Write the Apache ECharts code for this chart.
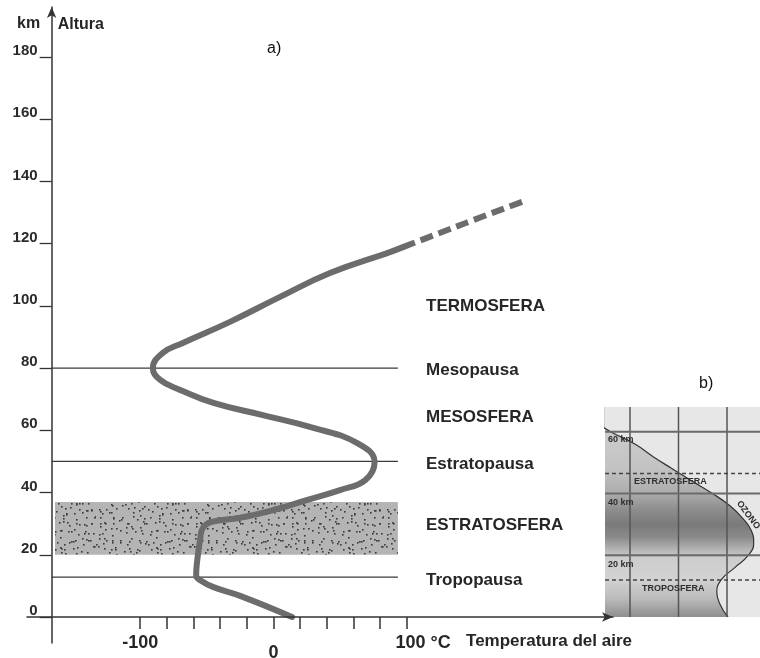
<!DOCTYPE html>
<html><head><meta charset="utf-8">
<script src="https://cdn.jsdelivr.net/npm/echarts@6/dist/echarts.min.js"></script>
<style>html,body{margin:0;padding:0;background:#fff}#c{width:760px;height:658px}</style>
</head><body><div id="c"></div>
<script>
// ---------- data (a) ----------
const altitudeTicks = [0, 20, 40, 60, 80, 100, 120, 140, 160, 180];
const temperatureTicks = [-100, -80, -60, -40, -20, 0, 20, 40, 60, 80, 100];
const temperatureLabels = ['-100', '0', '100 °C'];
const temperatureLabelValues = [-100, 0, 100];
// measured temperature profile (°C) and altitude (km)
const profileTemp = [14, -25, -45, -54, -58, -57.5, -55, -53, -47, -25, 0, 25, 50, 69, 76, 63, 30, -8, -45, -70, -85, -90.5, -83, -68, -33, 5, 42.5, 87.5, 97.3];
const profileAlt  = [0, 6.8, 9.6, 11.6, 13.3, 17, 25, 28.6, 30.5, 31.9, 34.4, 37.6, 40.8, 44, 49.8, 55.9, 60.8, 64.9, 68.8, 73, 76.2, 80, 84.9, 88.1, 94.8, 102.9, 110.6, 117.3, 118.9];
// extrapolated (dashed) part
const extrapTemp = [97.3, 144, 190];
const extrapAlt  = [118.9, 126.6, 134];
const boundaryNames = ['Tropopausa', 'Estratopausa', 'Mesopausa'];
const boundaryAlt = [12.8, 50, 80];
const labelNames = ['Tropopausa', 'ESTRATOSFERA', 'Estratopausa', 'MESOSFERA', 'Mesopausa', 'TERMOSFERA'];
const labelAlt = [11.9, 29.6, 49.2, 64.3, 79.4, 99.8];
const ozoneLayerAlt = [20, 37];
const bandTemp = [-164, 93.5];
const lineTemp = [-166.5, 93.5];
// ---------- data (b) inset ----------
const insetAlt = ['0','4','8','12','16','20','24','28','32','36','40','44','48','52','56','60','64','68'];
const ozoneConc = [3.02, 2.86, 2.79, 2.88, 3.16, 3.44, 3.55, 3.50, 3.32, 3.06, 2.70, 2.28, 1.87, 1.47, 1.10, 0.60, 0.20, -0.20];
const insetGridConc = [1, 2, 3];
const insetGridAlt = [20, 40, 60];
const insetDashedAlt = [12, 46.5];

// ---------- styling helpers ----------
const FONT = 'Liberation Sans, Arial, sans-serif';
const xMin = -185, xMax = 255;
const gridLeft = 27, gridRight = 147;
const pxPerDeg = (760 - gridLeft - gridRight) / (xMax - xMin);

function stipple() {
  const n = 96, cell = 8;
  const c = document.createElement('canvas');
  c.width = n; c.height = n;
  const g = c.getContext('2d');
  g.fillStyle = '#b4b4b4'; g.fillRect(0, 0, n, n);
  g.fillStyle = '#3a3a3a';
  let h = 97;
  const next = () => { h = (h * 1103515245 + 12345) % 2147483648; return h / 2147483648; };
  for (let cy = 0; cy < n; cy += cell) {
    for (let cx = 0; cx < n; cx += cell) {
      for (let k = 0; k < 2; k++) {
        g.fillRect(cx + Math.floor(next() * cell), cy + Math.floor(next() * cell), 1.6, 1.6);
      }
    }
  }
  return c;
}
const pat = stipple();

const chart = echarts.init(document.getElementById('c'), null, {renderer: 'canvas'});

const insetText = (t, left, top) => ({type: 'text', left, top, z: 30,
  style: {text: t, font: 'bold 9px ' + FONT, fill: '#2e2e2e'}});

const option = {
  animation: false,
  backgroundColor: '#fff',
  grid: [
    {left: gridLeft, right: gridRight, top: 7, bottom: 15, containLabel: false, outerBoundsMode: 'none'},
    {left: 605, right: 0, top: 407, bottom: 41, show: true, backgroundColor: '#e7e7e7', borderWidth: 0, z: 0, containLabel: false, outerBoundsMode: 'none'}
  ],
  xAxis: [
    {
      type: 'value', gridIndex: 0, min: xMin, max: xMax, z: 10,
      name: 'Temperatura del aire', nameLocation: 'end', nameGap: 19,
      nameTextStyle: {align: 'right', verticalAlign: 'top', padding: [16, 0, 0, 0], fontFamily: FONT, fontSize: 17, fontWeight: 'bold', color: '#262626'},
      axisLine: {show: true, onZero: true, symbol: ['none', 'arrow'], symbolSize: [7, 11], lineStyle: {color: '#333', width: 1.5}},
      axisTick: {show: true, customValues: temperatureTicks, length: 12, lineStyle: {color: '#333', width: 1.5}},
      axisLabel: {show: false},
      splitLine: {show: false}
    },
    {type: 'value', gridIndex: 1, min: 0.485, max: 3.68, show: false, splitLine: {show: false}}
  ],
  yAxis: [
    {
      type: 'value', gridIndex: 0, min: -8.36, max: 196.1, z: 10,
      offset: -(lineTemp[0] - xMin) * pxPerDeg,
      name: 'Altura', nameLocation: 'end', nameGap: -10,
      nameTextStyle: {align: 'left', verticalAlign: 'top', padding: [0, 0, 0, 6], fontFamily: FONT, fontSize: 16, fontWeight: 'bold', color: '#262626'},
      axisLine: {show: true, onZero: false, symbol: ['none', 'arrow'], symbolSize: [7, 11], lineStyle: {color: '#333', width: 1.5}},
      axisTick: {show: true, customValues: altitudeTicks, length: 12, lineStyle: {color: '#333', width: 1.3}},
      axisLabel: {show: true, customValues: altitudeTicks, margin: 14, fontFamily: FONT, fontSize: 15, fontWeight: 'bold', color: '#2a2a2a', verticalAlign: 'bottom', lineHeight: 12},
      splitLine: {show: false}
    },
    {type: 'category', gridIndex: 1, data: insetAlt, boundaryGap: false, show: false},
    {type: 'value', gridIndex: 1, min: 0, max: 68, show: false, splitLine: {show: false}}
  ],
  graphic: [
    {type: 'text', left: 17, top: 16, z: 30, style: {text: 'km', font: 'bold 16px ' + FONT, fill: '#262626'}},
    {type: 'text', left: 267, top: 41, z: 30, style: {text: 'a)', font: '16px ' + FONT, fill: '#111'}},
    {type: 'text', left: 699, top: 376, z: 30, style: {text: 'b)', font: '16px ' + FONT, fill: '#111'}},
    insetText('60 km', 608, 435),
    insetText('ESTRATOSFERA', 634, 477),
    insetText('40 km', 608, 498),
    insetText('20 km', 608, 560),
    insetText('TROPOSFERA', 642, 584),
    {type: 'text', x: 742, y: 499, rotation: -0.93, z: 30, style: {text: 'OZONO', font: 'bold 9px ' + FONT, fill: '#2e2e2e'}}
  ],
  series: [
    // stratospheric ozone band
    {
      type: 'custom', xAxisIndex: 0, yAxisIndex: 0, z: 1, silent: true,
      data: [[bandTemp[0], ozoneLayerAlt[0], bandTemp[1], ozoneLayerAlt[1]]],
      renderItem: (p, api) => {
        const a = api.coord([api.value(0), api.value(1)]);
        const b = api.coord([api.value(2), api.value(3)]);
        return {type: 'rect', shape: {x: a[0], y: b[1], width: b[0] - a[0], height: a[1] - b[1]},
          style: {fill: {type: 'pattern', image: pat, repeat: 'repeat'}}};
      }
    },
    // boundary lines
    {
      type: 'custom', xAxisIndex: 0, yAxisIndex: 0, z: 2, silent: true,
      data: boundaryAlt.map(a => [lineTemp[0], a, lineTemp[1]]),
      renderItem: (p, api) => {
        const a = api.coord([api.value(0), api.value(1)]);
        const b = api.coord([api.value(2), api.value(1)]);
        return {type: 'line', shape: {x1: a[0], y1: a[1], x2: b[0], y2: b[1]}, style: {stroke: '#3a3a3a', lineWidth: 1.3}};
      }
    },
    // temperature profile
    {
      type: 'line', xAxisIndex: 0, yAxisIndex: 0, z: 5, symbol: 'none', smooth: 0.45,
      data: profileTemp.map((t, i) => [t, profileAlt[i]]),
      lineStyle: {color: '#6c6c6c', width: 6, cap: 'round', join: 'round'}
    },
    {
      type: 'line', xAxisIndex: 0, yAxisIndex: 0, z: 5, symbol: 'none', smooth: 0.3,
      data: extrapTemp.map((t, i) => [t, extrapAlt[i]]),
      lineStyle: {color: '#6c6c6c', width: 6, type: [13, 6]}
    },
    // layer names
    {
      type: 'scatter', xAxisIndex: 0, yAxisIndex: 0, z: 6, symbolSize: 0, silent: true,
      itemStyle: {opacity: 1},
      data: labelNames.map((n, i) => ({value: [114.6, labelAlt[i]], name: n})),
      label: {show: true, position: 'right', distance: 0, opacity: 1, formatter: '{b}', fontFamily: FONT, fontSize: 17, fontWeight: 'bold', color: '#262626'}
    },
    // inset ozone profile
    {
      type: 'line', xAxisIndex: 1, yAxisIndex: 1, z: 3, symbol: 'none', smooth: true, silent: true,
      data: ozoneConc.map((v, i) => [v, insetAlt[i]]),
      lineStyle: {color: '#333', width: 1.2},
      areaStyle: {
        origin: 'start', opacity: 1,
        color: new echarts.graphic.LinearGradient(0, 0, 0, 1, [
          {offset: 0, color: '#d2d2d2'},
          {offset: 0.12, color: '#cbcbcb'},
          {offset: 0.29, color: '#c3c3c3'},
          {offset: 0.41, color: '#acacac'},
          {offset: 0.485, color: '#8f8f8f'},
          {offset: 0.56, color: '#7a7a7a'},
          {offset: 0.62, color: '#8a8a8a'},
          {offset: 0.68, color: '#b5b5b5'},
          {offset: 0.72, color: '#cdcdcd'},
          {offset: 0.82, color: '#d2d2d2'},
          {offset: 0.91, color: '#bcbcbc'},
          {offset: 1, color: '#8e8e8e'}
        ])
      }
    },
    // inset grid: vertical lines
    {
      type: 'custom', xAxisIndex: 1, yAxisIndex: 2, z: 4, silent: true,
      data: insetGridConc.map(c => [c, 0]),
      renderItem: (p, api) => {
        const x = api.coord([api.value(0), 0])[0];
        const cs = p.coordSys;
        return {type: 'line', shape: {x1: x, y1: cs.y, x2: x, y2: cs.y + cs.height}, style: {stroke: '#555', lineWidth: 1.5}};
      }
    },
    // inset grid: horizontal solid lines
    {
      type: 'custom', xAxisIndex: 1, yAxisIndex: 2, z: 4, silent: true,
      data: insetGridAlt.map(a => [1, a]),
      renderItem: (p, api) => {
        const y = api.coord([1, api.value(1)])[1];
        const cs = p.coordSys;
        return {type: 'line', shape: {x1: cs.x, y1: y, x2: cs.x + cs.width, y2: y}, style: {stroke: '#6a6a6a', lineWidth: 2}};
      }
    },
    // inset dashed lines
    {
      type: 'custom', xAxisIndex: 1, yAxisIndex: 2, z: 4, silent: true,
      data: insetDashedAlt.map(a => [1, a]),
      renderItem: (p, api) => {
        const y = api.coord([1, api.value(1)])[1];
        const cs = p.coordSys;
        return {type: 'line', shape: {x1: cs.x, y1: y, x2: cs.x + cs.width, y2: y}, style: {stroke: '#444', lineWidth: 1.5, lineDash: [4, 3]}};
      }
    }
  ]
};
chart.setOption(option);

// x-axis tick labels, positioned through the axis scale
const axisY = chart.convertToPixel({yAxisIndex: 0}, 0);
const xLabelGraphics = temperatureLabelValues.map((v, i) => {
  const x = chart.convertToPixel({xAxisIndex: 0}, v);
  const isZero = v === 0;
  const isLast = i === temperatureLabelValues.length - 1;
  return {
    type: 'text', z: 30,
    x: isLast ? x - 11 : x, y: axisY + (isZero ? 27 : 17),
    style: {text: temperatureLabels[i], font: 'bold 18px ' + FONT, fill: '#262626',
      align: isLast ? 'left' : 'center', verticalAlign: 'top'}
  };
});
chart.setOption({graphic: option.graphic.concat(xLabelGraphics)});
</script>
</body></html>
